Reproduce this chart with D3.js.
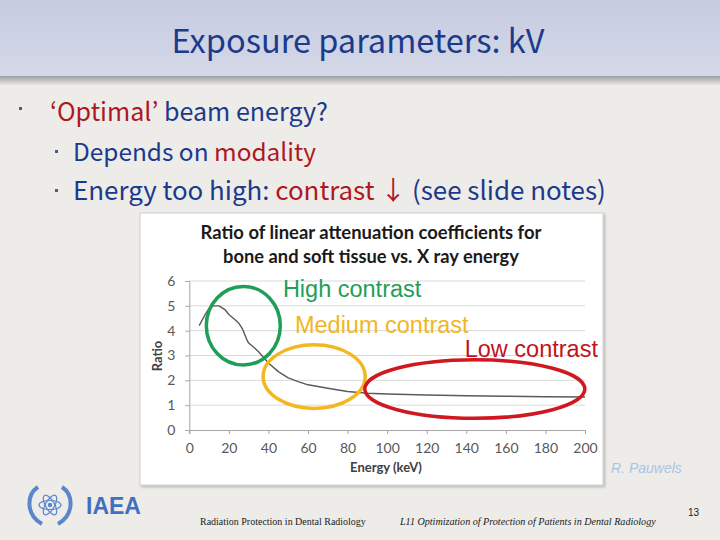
<!DOCTYPE html>
<html><head><meta charset="utf-8">
<script src="https://cdn.jsdelivr.net/npm/d3@7"></script>
<style>html,body{margin:0;padding:0;background:#eeece8;}svg{display:block;}</style>
</head><body>
<svg id="slide" width="720" height="540"></svg>
<script>
// ---- data ----
const energyKeV = [5, 8, 10, 12, 15, 18, 20, 23, 25, 27, 29, 30, 33, 35, 40, 45, 50, 55, 60, 70, 80, 90, 100, 120, 140, 160, 180, 200];
const ratioValues = [4.2, 4.65, 4.9, 5.0, 5.0, 4.85, 4.65, 4.45, 4.3, 4.05, 3.65, 3.5, 3.3, 3.15, 2.7, 2.35, 2.1, 1.95, 1.82, 1.68, 1.55, 1.48, 1.45, 1.41, 1.38, 1.36, 1.34, 1.33];
const xTicks = [0, 20, 40, 60, 80, 100, 120, 140, 160, 180, 200];
const yTicks = [0, 1, 2, 3, 4, 5, 6];
const chartTitle = ["Ratio of linear attenuation coefficients for", "bone and soft tissue vs. X ray energy"];
const xAxisTitle = "Energy (keV)";
const yAxisTitle = "Ratio";
// annotation zones (in data units)
const zoneNames = ["High contrast", "Medium contrast", "Low contrast"];
const zoneCenterEnergy = [27.3, 63.1, 144.3];
const zoneCenterRatio = [4.2, 2.15, 1.65];
const zoneHalfWidthKeV = [18.7, 25.8, 55.6];
const zoneHalfHeightRatio = [1.58, 1.28, 1.18];
const zoneLabelEnergy = [47.3, 53.4, 139.2];
const zoneLabelRatio = [5.34, 3.92, 2.95];
const zoneColors = ["#1f9e57", "#f3b820", "#d01820"];
const zoneTextColors = ["#1f9e57", "#f0b722", "#c0141c"];

// ---- slide ----
const svg = d3.select("#slide");
const defs = svg.append("defs");
const hg = defs.append("linearGradient").attr("id","hdr").attr("x1",0).attr("y1",0).attr("x2",0).attr("y2",1);
hg.append("stop").attr("offset","0%").attr("stop-color","#c6cbe0");
hg.append("stop").attr("offset","100%").attr("stop-color","#d4d8e8");
const sg = defs.append("linearGradient").attr("id","shd").attr("x1",0).attr("y1",0).attr("x2",0).attr("y2",1);
sg.append("stop").attr("offset","0%").attr("stop-color","#9c9ea8");
sg.append("stop").attr("offset","100%").attr("stop-color","#e9e7e2");
const fl = defs.append("filter").attr("id","boxshadow").attr("x","-5%").attr("y","-5%").attr("width","110%").attr("height","110%");
fl.append("feDropShadow").attr("dx",1.5).attr("dy",1.5).attr("stdDeviation",1.2).attr("flood-color","#000").attr("flood-opacity",0.25);

svg.append("rect").attr("x",0).attr("y",0).attr("width",720).attr("height",540).attr("fill","#eeece8");
svg.append("rect").attr("x",0).attr("y",0).attr("width",720).attr("height",76).attr("fill","url(#hdr)");
svg.append("rect").attr("x",0).attr("y",76).attr("width",720).attr("height",9).attr("fill","url(#shd)");

const jp = "'Noto Sans CJK JP', 'Noto Sans', sans-serif";
function fit(sel, w) {
  const n = sel.node();
  const cur = parseFloat(sel.attr("font-size"));
  const len = n.getComputedTextLength();
  if (len > 0) sel.attr("font-size", (cur * w / len).toFixed(2));
  return sel;
}

fit(svg.append("text").attr("x",358).attr("y",53).attr("text-anchor","middle")
  .attr("font-family",jp).attr("font-size",30).attr("fill","#1b3a8c")
  .text("Exposure parameters: kV"), 373);

const blue = "#1b3a8c", red = "#b0171f";
function bullet(x, y, s) {
  svg.append("rect").attr("x",x).attr("y",y).attr("width",s).attr("height",s).attr("fill","#4a5a8a");
}
bullet(19, 107, 3);
bullet(55, 150, 3);
bullet(55, 189, 3);

function richLine(x, y, parts, width) {
  const t = svg.append("text").attr("x",x).attr("y",y).attr("font-family",jp).attr("font-size",24);
  parts.forEach(p => t.append("tspan").attr("fill",p[1]).text(p[0]));
  if (width) fit(t, width);
  return t;
}
richLine(50, 121, [["‘Optimal’", red], [" beam energy?", blue]], 278);
richLine(73, 161, [["Depends on ", blue], ["modality", red]], 243);
richLine(73, 200, [["Energy too high: ", blue], ["contrast ↓", red], [" (see slide notes)", blue]], 533);

// ---- chart box ----
svg.append("rect").attr("x",140).attr("y",213).attr("width",463).attr("height",272)
  .attr("fill","#ffffff").attr("stroke","#d0d0d0").attr("stroke-width",1).attr("filter","url(#boxshadow)");

const cal = "Lato, 'Open Sans', sans-serif";
const titleLines = svg.append("g");
const tl1 = titleLines.append("text").attr("x",371).attr("y",239).attr("text-anchor","middle")
  .attr("font-family",cal).attr("font-weight","bold").attr("font-size",16.5).attr("fill","#1a1a1a").text(chartTitle[0]);
fit(tl1, 341);
const tl2 = titleLines.append("text").attr("x",371).attr("y",263).attr("text-anchor","middle")
  .attr("font-family",cal).attr("font-weight","bold").attr("font-size",16.5).attr("fill","#1a1a1a").text(chartTitle[1]);
fit(tl2, 296);

const x = d3.scaleLinear().domain([0,200]).range([189.3, 585]);
const y = d3.scaleLinear().domain([0,6]).range([430, 281]);

const grid = svg.append("g");
grid.selectAll("line").data(yTicks.filter(d => d > 0)).join("line")
  .attr("x1", x(0)).attr("x2", x(200)).attr("y1", d => y(d)).attr("y2", d => y(d))
  .attr("stroke","#d9d9d9").attr("stroke-width",1);

const xAxis = svg.append("g").attr("transform",`translate(0,${y(0)})`)
  .call(d3.axisBottom(x).tickValues(xTicks).tickSize(4).tickPadding(9).tickFormat(d3.format("d")));
const yAxis = svg.append("g").attr("transform",`translate(${x(0)},0)`)
  .call(d3.axisLeft(y).tickValues(yTicks).tickSize(4).tickPadding(9).tickFormat(d3.format("d")));
[xAxis, yAxis].forEach(a => {
  a.select(".domain").attr("stroke","#a6a6a6").attr("stroke-width",1);
  a.selectAll(".tick line").attr("stroke","#a6a6a6");
  a.selectAll(".tick text").attr("fill","#595959").attr("font-family",cal).attr("font-size",14);
});
yAxis.selectAll(".tick text").attr("dx", -1);

svg.append("text").attr("x",386).attr("y",472).attr("text-anchor","middle")
  .attr("font-family",cal).attr("font-weight","bold").attr("font-size",13).attr("fill","#404040").text(xAxisTitle);
svg.append("text").attr("transform","translate(162,356) rotate(-90)").attr("text-anchor","middle")
  .attr("font-family",cal).attr("font-weight","bold").attr("font-size",13).attr("fill","#404040").text(yAxisTitle);

const line = d3.line().x((d,i) => x(energyKeV[i])).y(d => y(d));
svg.append("path").datum(ratioValues).attr("d", line)
  .attr("fill","none").attr("stroke","#5a5a5a").attr("stroke-width",1.4).attr("stroke-linejoin","round");

// zones
const zones = svg.append("g");
zoneNames.forEach((name, i) => {
  zones.append("ellipse")
    .attr("cx", x(zoneCenterEnergy[i])).attr("cy", y(zoneCenterRatio[i]))
    .attr("rx", x(zoneHalfWidthKeV[i]) - x(0)).attr("ry", y(0) - y(zoneHalfHeightRatio[i]))
    .attr("fill","none").attr("stroke", zoneColors[i]).attr("stroke-width",3.5);
  zones.append("text").attr("x", x(zoneLabelEnergy[i])).attr("y", y(zoneLabelRatio[i]))
    .attr("font-family","'Liberation Sans', Arial, sans-serif").attr("font-size",23.5)
    .attr("fill", zoneTextColors[i]).text(name);
});

// credit
svg.append("text").attr("x",611).attr("y",473).attr("font-family","'Liberation Sans', Arial, sans-serif")
  .attr("font-style","italic").attr("font-size",14).attr("fill","#a9c4e6").text("R. Pauwels");

// ---- footer ----
const logo = svg.append("g").attr("transform","translate(50,505)");
const lc = "#5b86cc";
logo.append("path").attr("d","M-12,-18 C-24,-10 -24,10 -8,19").attr("fill","none").attr("stroke",lc).attr("stroke-width",4);
logo.append("path").attr("d","M12,-18 C24,-10 24,10 8,19").attr("fill","none").attr("stroke",lc).attr("stroke-width",4);
[0,60,120].forEach(a => logo.append("ellipse").attr("rx",11).attr("ry",4.5).attr("transform",`rotate(${a})`)
  .attr("fill","none").attr("stroke",lc).attr("stroke-width",1.2));
logo.append("circle").attr("r",2.2).attr("fill",lc);
svg.append("text").attr("x",86).attr("y",514).attr("font-family","'Liberation Sans', Arial, sans-serif")
  .attr("font-weight","bold").attr("font-size",23).attr("fill","#3f70c2").text("IAEA");

const ft1 = svg.append("text").attr("x",200).attr("y",525).attr("font-family","'Liberation Serif', 'DejaVu Serif', serif")
  .attr("font-size",10).attr("fill","#1a1a1a").text("Radiation Protection in Dental Radiology");
fit(ft1, 166);
const ft2 = svg.append("text").attr("x",400).attr("y",525).attr("font-family","'Liberation Serif', 'DejaVu Serif', serif")
  .attr("font-style","italic").attr("font-size",10).attr("fill","#1a1a1a").text("L11 Optimization of Protection of Patients in Dental Radiology");
fit(ft2, 256);
svg.append("text").attr("x",688).attr("y",516).attr("font-family","'Liberation Sans', Arial, sans-serif")
  .attr("font-size",10).attr("fill","#1a1a1a").text("13");
</script>
</body></html>
